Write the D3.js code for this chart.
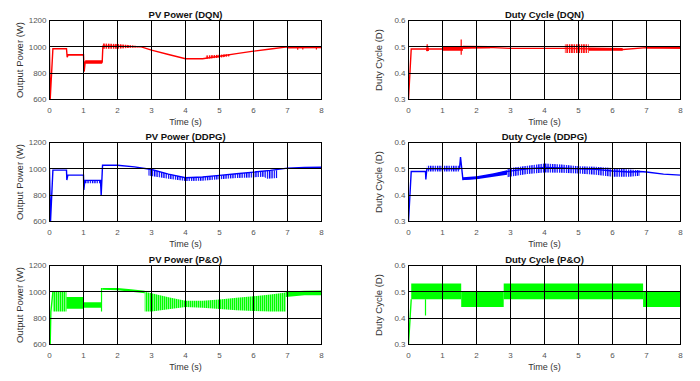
<!DOCTYPE html>
<html>
<head>
<meta charset="utf-8">
<script src="https://cdn.jsdelivr.net/npm/d3@7"></script>
<style>
  body { margin: 0; background: #fff; }
  text { font-family: "Liberation Sans", Arial, sans-serif; }
</style>
</head>
<body>
<div id="chart-area"></div>
<script>
// axis ticks
const timeTicks = [0, 1, 2, 3, 4, 5, 6, 7, 8]
const powerTicks = [600, 800, 1000, 1200]
const dutyTicks = [0.3, 0.4, 0.5, 0.6]

// PV power (DQN)
const dqnPowT = [0, 0.02, 0.1, 0.5, 0.52, 0.55, 1.0, 1.02, 1.05, 1.55, 1.57, 2.0, 2.7, 3.0, 3.5, 4.0, 4.5, 5.0, 5.5, 6.0, 6.5, 7.0, 7.5, 8.0]
const dqnPowV = [990, 600, 985, 985, 922, 940, 940, 812, 885, 885, 1005, 1005, 1000, 975, 942, 910, 910, 928, 948, 967, 984, 1000, 998, 998]
const dqnPowBands = [
    [[0.55, 935, 945], [1.0, 935, 945]],
    [[1.05, 872, 898], [1.55, 872, 898]],
    [[7.0, 988, 1003], [8.0, 990, 1004]]
]
const dqnPowCombs = [
    [[1.57, 985, 1025], [2.0, 985, 1022], [2.4, 993, 1012], [2.7, 998, 1003]],
    [[4.6, 910, 935], [5.0, 918, 940], [5.3, 928, 945]]
]
const dqnPowSpikes = [[7.3, 978, 1000], [7.45, 980, 1000], [7.85, 980, 1000]]

// duty cycle (DQN)
const dqnDutyT = [0, 0.08, 0.5, 1.0, 1.6, 2.0, 2.5, 3.0, 4.0, 4.6, 6.3, 7.0, 8.0]
const dqnDutyV = [0.3, 0.492, 0.492, 0.492, 0.495, 0.498, 0.497, 0.494, 0.494, 0.494, 0.49, 0.497, 0.495]
const dqnDutyBands = [
    [[0.52, 0.484, 0.497], [0.6, 0.484, 0.497]],
    [[1.0, 0.485, 0.5], [1.6, 0.485, 0.5]],
    [[1.6, 0.493, 0.504], [2.4, 0.495, 0.503]],
    [[5.3, 0.485, 0.497], [6.3, 0.485, 0.496]],
    [[7.0, 0.494, 0.5], [8.0, 0.493, 0.5]]
]
const dqnDutyCombs = [
    [[4.6, 0.477, 0.51], [5.3, 0.477, 0.51]]
]
const dqnDutySpikes = [[0.55, 0.483, 0.51], [1.55, 0.47, 0.528]]

// PV power (DDPG)
const ddpgPowT = [0, 0.03, 0.1, 0.5, 0.51, 0.54, 1.0, 1.01, 1.04, 1.5, 1.52, 1.56, 2.0, 2.5, 3.0, 3.5, 4.0, 4.5, 5.0, 5.5, 6.0, 6.5, 7.0, 7.5, 8.0]
const ddpgPowV = [1000, 600, 990, 990, 915, 952, 952, 840, 912, 912, 800, 1027, 1027, 1015, 995, 960, 932, 938, 950, 963, 975, 988, 1005, 1010, 1012]
const ddpgPowBands = []
const ddpgPowCombs = [
    [[1.04, 890, 912], [1.5, 890, 912]],
    [[2.9, 950, 998], [3.5, 925, 960], [4.0, 908, 932], [4.5, 910, 938], [5.0, 920, 950], [5.5, 930, 963], [6.0, 935, 975], [6.3, 940, 984], [6.4, 925, 985], [6.7, 930, 990]]
]
const ddpgPowSpikes = []

// duty cycle (DDPG)
const ddpgDutyT = [0, 0.08, 0.5, 0.51, 0.54, 1.5, 1.53, 1.6, 2.0, 2.5, 2.9, 3.5, 4.0, 4.5, 5.0, 5.5, 6.0, 6.5, 6.8, 7.0, 7.5, 8.0]
const ddpgDutyV = [0.3, 0.49, 0.49, 0.46, 0.5, 0.5, 0.545, 0.46, 0.465, 0.478, 0.49, 0.5, 0.505, 0.503, 0.5, 0.498, 0.492, 0.488, 0.49, 0.488, 0.48, 0.476]
const ddpgDutyBands = [
    [[1.6, 0.458, 0.468], [2.0, 0.46, 0.472], [2.5, 0.47, 0.483], [2.9, 0.478, 0.495]]
]
const ddpgDutyCombs = [
    [[0.54, 0.49, 0.512], [1.5, 0.49, 0.512]],
    [[2.9, 0.468, 0.502], [3.5, 0.48, 0.512], [4.0, 0.486, 0.52], [4.5, 0.485, 0.516], [5.0, 0.482, 0.51], [5.5, 0.478, 0.508], [6.0, 0.47, 0.503], [6.5, 0.47, 0.497], [6.8, 0.474, 0.495]]
]
const ddpgDutySpikes = []

// PV power (P&O)
const poPowT = [0.02, 0.04, 0.1]
const poPowV = [600, 848, 1000]
const poPowBands = [
    [[0.5, 872, 960], [1.0, 872, 960]],
    [[1.0, 880, 920], [1.52, 880, 920]],
    [[1.55, 1015, 1030], [2.0, 1012, 1030], [2.4, 1000, 1020], [2.8, 990, 1008]],
    [[6.95, 960, 1000], [7.5, 975, 1008], [8.0, 975, 1010]]
]
const poPowCombs = [
    [[0.1, 850, 1000], [0.5, 850, 1000]],
    [[2.8, 850, 1000], [3.0, 850, 990], [3.5, 868, 958], [4.0, 885, 932], [4.5, 880, 932], [5.0, 870, 942], [5.5, 860, 955], [6.0, 855, 966], [6.5, 850, 980], [6.95, 850, 995]]
]
const poPowSpikes = [[1.53, 850, 1030]]

// duty cycle (P&O)
const poDutyT = [0, 0.08]
const poDutyV = [0.3, 0.472]
const poDutyBands = [
    [[0.08, 0.472, 0.532], [1.55, 0.472, 0.532]],
    [[1.55, 0.442, 0.503], [2.8, 0.442, 0.503]],
    [[2.8, 0.472, 0.532], [6.9, 0.472, 0.532]],
    [[6.9, 0.442, 0.503], [8.0, 0.442, 0.503]]
]
const poDutyCombs = []
const poDutySpikes = [[0.5, 0.41, 0.472]]

const svg = d3.select("#chart-area").append("svg")
    .attr("width", 700)
    .attr("height", 381)

const defs = svg.append("defs")
function makeComb(id, color, period, stripe) {
    const p = defs.append("pattern")
        .attr("id", id)
        .attr("patternUnits", "userSpaceOnUse")
        .attr("width", period)
        .attr("height", 10)
    p.append("rect")
        .attr("width", stripe)
        .attr("height", 10)
        .attr("fill", color)
}
makeComb("comb-red", "#ff0000", 2.4, 1.5)
makeComb("comb-blue", "#0000ff", 2.3, 1.3)
makeComb("comb-green", "#00ff00", 2, 1.5)

const plotW = 272
const plotH = 79
const colX = [49.5, 408.5]
const rowY = [20.5, 142.5, 265.5]

function drawPanel(o) {
    const x = d3.scaleLinear().domain([0, 8]).range([o.left, o.left + plotW])
    const y = d3.scaleLinear().domain(o.yDomain).range([o.top + plotH, o.top])
    const g = svg.append("g")

    const clipId = "clip-" + o.id
    defs.append("clipPath").attr("id", clipId)
        .append("rect")
        .attr("x", o.left).attr("y", o.top)
        .attr("width", plotW).attr("height", plotH)

    const data = g.append("g").attr("clip-path", `url(#${clipId})`)

    const area = d3.area()
        .x(d => x(d[0]))
        .y0(d => y(d[1]))
        .y1(d => y(d[2]))

    data.selectAll(".band").data(o.bands).enter()
        .append("path")
        .attr("class", "band")
        .attr("d", area)
        .attr("fill", o.color)

    data.selectAll(".comb").data(o.combs).enter()
        .append("path")
        .attr("class", "comb")
        .attr("d", area)
        .attr("fill", `url(#comb-${o.colorName})`)

    data.selectAll(".spike").data(o.spikes).enter()
        .append("line")
        .attr("class", "spike")
        .attr("x1", d => x(d[0]))
        .attr("x2", d => x(d[0]))
        .attr("y1", d => y(d[1]))
        .attr("y2", d => y(d[2]))
        .attr("stroke", o.color)
        .attr("stroke-width", 1.2)

    const pts = o.lineT.map((t, i) => [t, o.lineV[i]])
    data.append("path")
        .datum(pts)
        .attr("d", d3.line().x(d => x(d[0])).y(d => y(d[1])))
        .attr("fill", "none")
        .attr("stroke", o.color)
        .attr("stroke-width", 1.4)

    // grid on top of the data, as in the original
    g.selectAll(".vgrid").data(timeTicks).enter()
        .append("line")
        .attr("x1", d => x(d)).attr("x2", d => x(d))
        .attr("y1", o.top).attr("y2", o.top + plotH)
        .attr("stroke", "#000")
        .attr("stroke-width", 1)
        .attr("shape-rendering", "crispEdges")
    g.selectAll(".hgrid").data(o.yTicks).enter()
        .append("line")
        .attr("x1", o.left).attr("x2", o.left + plotW)
        .attr("y1", d => y(d)).attr("y2", d => y(d))
        .attr("stroke", "#000")
        .attr("stroke-width", 1)
        .attr("shape-rendering", "crispEdges")
    g.append("rect")
        .attr("x", o.left).attr("y", o.top)
        .attr("width", plotW).attr("height", plotH)
        .attr("fill", "none")
        .attr("stroke", "#000")
        .attr("shape-rendering", "crispEdges")

    // tick labels
    g.selectAll(".xtick").data(timeTicks).enter()
        .append("text")
        .attr("x", d => x(d))
        .attr("y", o.top + plotH + 13)
        .attr("text-anchor", "middle")
        .attr("font-size", "8px")
        .attr("fill", "#555")
        .text(d => d)
    g.selectAll(".ytick").data(o.yTicks).enter()
        .append("text")
        .attr("x", o.left - 3)
        .attr("y", d => y(d))
        .attr("dy", "0.35em")
        .attr("text-anchor", "end")
        .attr("font-size", "8px")
        .attr("fill", "#555")
        .text(o.yFormat)

    g.append("text")
        .attr("x", o.left + plotW / 2)
        .attr("y", o.top - 2.5)
        .attr("text-anchor", "middle")
        .attr("font-size", "9.5px")
        .attr("font-weight", "bold")
        .attr("fill", "#111")
        .text(o.title)

    g.append("text")
        .attr("x", o.left + plotW / 2)
        .attr("y", o.top + plotH + 25)
        .attr("text-anchor", "middle")
        .attr("font-size", "9px")
        .attr("fill", "#333")
        .text("Time (s)")

    g.append("text")
        .attr("transform", `translate(${o.left - 27}, ${o.top + plotH / 2}) rotate(-90)`)
        .attr("text-anchor", "middle")
        .attr("font-size", "9.5px")
        .attr("fill", "#333")
        .text(o.ylabel)
}

const powFmt = d => d
const dutyFmt = d3.format(".1f")

drawPanel({ id: "p1", left: colX[0], top: rowY[0], title: "PV Power (DQN)", ylabel: "Output Power (W)",
    yDomain: [600, 1200], yTicks: powerTicks, yFormat: powFmt, color: "#ff0000", colorName: "red",
    lineT: dqnPowT, lineV: dqnPowV, bands: dqnPowBands, combs: dqnPowCombs, spikes: dqnPowSpikes })
drawPanel({ id: "d1", left: colX[1], top: rowY[0], title: "Duty Cycle (DQN)", ylabel: "Duty Cycle (D)",
    yDomain: [0.3, 0.6], yTicks: dutyTicks, yFormat: dutyFmt, color: "#ff0000", colorName: "red",
    lineT: dqnDutyT, lineV: dqnDutyV, bands: dqnDutyBands, combs: dqnDutyCombs, spikes: dqnDutySpikes })
drawPanel({ id: "p2", left: colX[0], top: rowY[1], title: "PV Power (DDPG)", ylabel: "Output Power (W)",
    yDomain: [600, 1200], yTicks: powerTicks, yFormat: powFmt, color: "#0000ff", colorName: "blue",
    lineT: ddpgPowT, lineV: ddpgPowV, bands: ddpgPowBands, combs: ddpgPowCombs, spikes: ddpgPowSpikes })
drawPanel({ id: "d2", left: colX[1], top: rowY[1], title: "Duty Cycle (DDPG)", ylabel: "Duty Cycle (D)",
    yDomain: [0.3, 0.6], yTicks: dutyTicks, yFormat: dutyFmt, color: "#0000ff", colorName: "blue",
    lineT: ddpgDutyT, lineV: ddpgDutyV, bands: ddpgDutyBands, combs: ddpgDutyCombs, spikes: ddpgDutySpikes })
drawPanel({ id: "p3", left: colX[0], top: rowY[2], title: "PV Power (P&O)", ylabel: "Output Power (W)",
    yDomain: [600, 1200], yTicks: powerTicks, yFormat: powFmt, color: "#00ff00", colorName: "green",
    lineT: poPowT, lineV: poPowV, bands: poPowBands, combs: poPowCombs, spikes: poPowSpikes })
drawPanel({ id: "d3", left: colX[1], top: rowY[2], title: "Duty Cycle (P&O)", ylabel: "Duty Cycle (D)",
    yDomain: [0.3, 0.6], yTicks: dutyTicks, yFormat: dutyFmt, color: "#00ff00", colorName: "green",
    lineT: poDutyT, lineV: poDutyV, bands: poDutyBands, combs: poDutyCombs, spikes: poDutySpikes })
</script>
</body>
</html>
